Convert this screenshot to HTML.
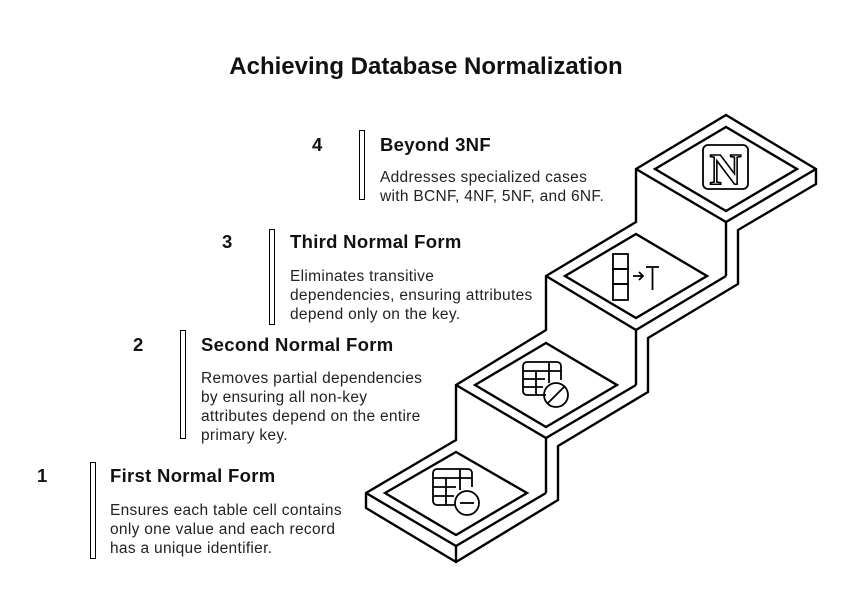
<!DOCTYPE html>
<html><head><meta charset="utf-8"><style>
html,body{margin:0;padding:0;background:#fff;}
body{width:852px;height:607px;position:relative;overflow:hidden;font-family:"Liberation Sans",sans-serif;color:#111;}
.t{position:absolute;white-space:nowrap;}
.title{left:0;width:852px;text-align:center;top:53px;font-size:24px;font-weight:bold;}
.num{font-size:18.5px;font-weight:bold;}
.h{font-size:18.5px;font-weight:bold;letter-spacing:0.3px;}
.b{font-size:15.5px;line-height:19px;color:#222;letter-spacing:0.3px;}
.bar{position:absolute;width:4px;border:1.5px solid #000;background:#fff;}
</style></head><body>
<div class="t title">Achieving Database Normalization</div>

<div class="t num" style="left:312px;top:134px">4</div>
<div class="bar" style="left:359px;top:130px;height:68px"></div>
<div class="t h" style="left:380px;top:134px">Beyond 3NF</div>
<div class="t b" style="left:380px;top:168px">Addresses specialized cases<br>with BCNF, 4NF, 5NF, and 6NF.</div>

<div class="t num" style="left:222px;top:231px">3</div>
<div class="bar" style="left:269px;top:229px;height:94px"></div>
<div class="t h" style="left:290px;top:231px">Third Normal Form</div>
<div class="t b" style="left:290px;top:267px">Eliminates transitive<br>dependencies, ensuring attributes<br>depend only on the key.</div>

<div class="t num" style="left:133px;top:334px">2</div>
<div class="bar" style="left:180px;top:330px;height:107px"></div>
<div class="t h" style="left:201px;top:334px">Second Normal Form</div>
<div class="t b" style="left:201px;top:369px">Removes partial dependencies<br>by ensuring all non-key<br>attributes depend on the entire<br>primary key.</div>

<div class="t num" style="left:37px;top:465px">1</div>
<div class="bar" style="left:90px;top:462px;height:95px"></div>
<div class="t h" style="left:110px;top:465px">First Normal Form</div>
<div class="t b" style="left:110px;top:501px">Ensures each table cell contains<br>only one value and each record<br>has a unique identifier.</div>

<svg width="852" height="607" style="position:absolute;left:0;top:0" fill="none" stroke="#000" stroke-width="2.4" stroke-linejoin="miter">
<polygon points="366,493 456,440 456,385 546,330 546,276 636,222 636,169 726,115 816,169 816,184 738,230 738,284 648,338 648,392 558,446 558,500 456,562 366,508"/>
<polyline points="366,493 456,546 546,493"/>
<polyline points="456,385 546,438 636,385"/>
<polyline points="546,276 636,330 726,276"/>
<polyline points="636,169 726,222 816,169"/>
<line x1="726" y1="222" x2="726" y2="276"/>
<line x1="636" y1="330" x2="636" y2="385"/>
<line x1="546" y1="438" x2="546" y2="493"/>
<line x1="456" y1="546" x2="456" y2="562"/>
<polygon points="385,493 456,452 527,493 456,535"/>
<polygon points="475,385 546,343 617,385 546,427"/>
<polygon points="565,276 636,234 707,276 636,318"/>
<polygon points="655,169 726,127 797,169 726,211"/>
<g stroke-width="1.8">
<rect x="703" y="145" width="45" height="44" rx="5"/>
<rect x="613" y="254" width="15" height="15"/><rect x="613" y="269" width="15" height="15"/><rect x="613" y="284" width="15" height="16"/>
<path d="M633 276 H643 M639 272 L643 276 L639 280"/>
<line x1="646" y1="267" x2="659" y2="267"/><line x1="652.5" y1="267" x2="652.5" y2="290"/>
<path d="M546 395 H527 a4 4 0 0 1 -4 -4 V366 a4 4 0 0 1 4 -4 H557 a4 4 0 0 1 4 4 V380"/>
<line x1="523" y1="371" x2="561" y2="371"/><line x1="523" y1="379" x2="545" y2="379"/><line x1="523" y1="387" x2="543" y2="387"/>
<line x1="536" y1="371" x2="536" y2="395"/><line x1="549" y1="362" x2="549" y2="383"/>
<circle cx="556" cy="395" r="12"/><line x1="548" y1="403" x2="564" y2="387"/>
<path d="M456 505 H437 a4 4 0 0 1 -4 -4 V473 a4 4 0 0 1 4 -4 H468 a4 4 0 0 1 4 4 V487"/>
<line x1="433" y1="478" x2="472" y2="478"/><line x1="433" y1="487" x2="456" y2="487"/><line x1="433" y1="496" x2="454" y2="496"/>
<line x1="446" y1="478" x2="446" y2="505"/><line x1="460" y1="469" x2="460" y2="490"/>
<circle cx="467" cy="503" r="12"/><line x1="460" y1="503" x2="474" y2="503"/>
</g>
<text x="725.5" y="184" text-anchor="middle" font-family="Liberation Serif,serif" font-weight="bold" font-size="44" fill="#fff" stroke="#000" stroke-width="1.6">N</text>
</svg>
</body></html>
